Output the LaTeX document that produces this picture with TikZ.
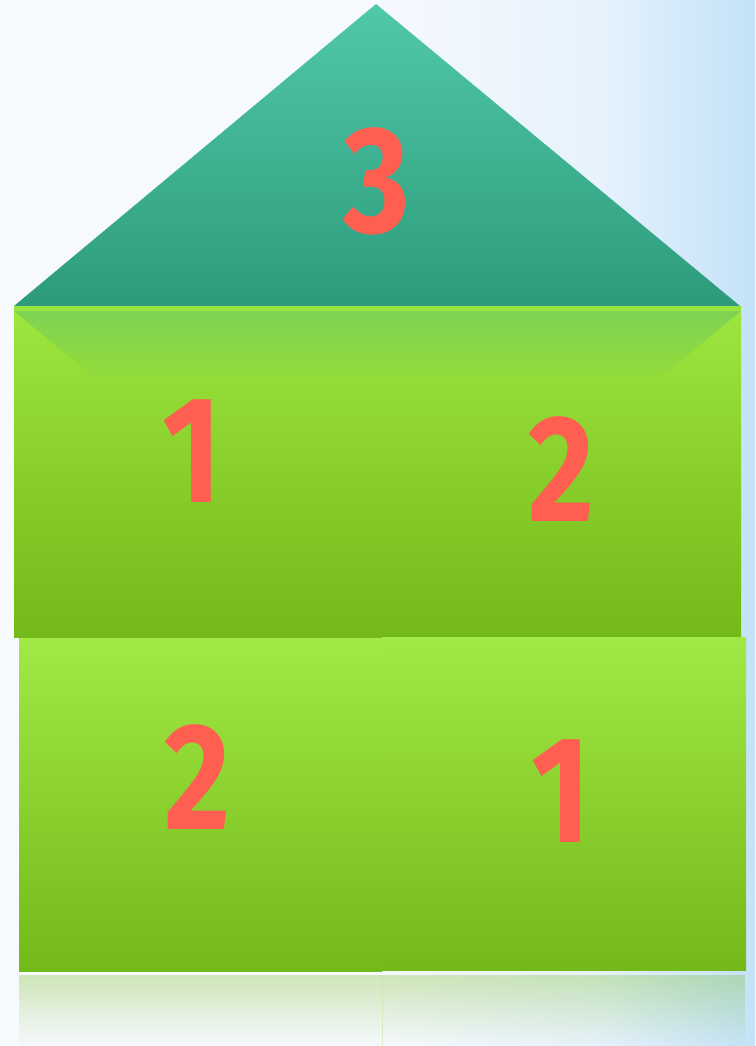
\documentclass[tikz,border=0pt]{standalone}
\usepackage{fontspec}
\setsansfont{Fira Sans}
\usetikzlibrary{fadings}
\definecolor{bgL}{HTML}{F6F9FE}
\definecolor{bgM}{HTML}{E6F2FC}
\definecolor{bgR}{HTML}{C4E2F8}
\definecolor{roofTop}{HTML}{50C9A9}
\definecolor{roofBot}{HTML}{2D9B7B}
\definecolor{boxTop}{HTML}{9EE63F}
\definecolor{boxBot}{HTML}{73B919}
\definecolor{lowTop}{HTML}{A1E944}
\definecolor{stripe}{HTML}{97E43C}
\definecolor{trapTop}{HTML}{7FD352}
\definecolor{trapBot}{HTML}{92DC3A}
\definecolor{digit}{HTML}{FF5F50}
\definecolor{refl}{HTML}{74BA1A}
\tikzfading[name=reflfade, top color=transparent!70, bottom color=transparent!100]
\tikzset{
  digitnode/.style={inner sep=0pt, text=digit, font=\sffamily\bfseries\fontsize{152}{152}\selectfont},
}
\newcommand{\narrow}[1]{\scalebox{0.84}[1]{#1}}
\begin{document}
\begin{tikzpicture}[x=1pt,y=-1pt]
\useasboundingbox (0,0) rectangle (755,1046);
% background
\fill[bgL] (0,0) rectangle (755,1046);
\shade[left color=bgL, right color=bgM] (380,0) rectangle (600,1046);
\shade[left color=bgM, right color=bgR] (599.5,0) rectangle (755,1046);
% roof
\shade[top color=roofTop, bottom color=roofBot] (376,4) -- (740,306) -- (14,306) -- cycle;
% upper box
\shade[top color=boxTop, bottom color=boxBot] (14,306) rectangle (741,637);
\shade[top color=trapTop, bottom color=trapBot] (14,311) -- (741,311) -- (660,378) -- (95,378) -- cycle;
\fill[stripe] (14,306) rectangle (741,311);
% lower boxes
\shade[top color=lowTop, bottom color=boxBot] (19,638) rectangle (382,971);
\shade[top color=lowTop, bottom color=boxBot] (382,637) rectangle (746,970);
% reflection
\fill[refl, path fading=reflfade] (19,975) rectangle (746,1046);
\draw[refl!40, opacity=0.5, line width=0.6pt] (382,975) -- (382,1046);
% digits
\node[digitnode] (d3) at (377,181) {\narrow{3}};
\node[digitnode] (d1a) at (192,451) {\narrow{1}};
\node[digitnode] (d2a) at (561,469) {\narrow{2}};
\node[digitnode] (d2b) at (198,777) {\narrow{2}};
\node[digitnode] (d1b) at (561,791) {\narrow{1}};
\end{tikzpicture}
\end{document}
